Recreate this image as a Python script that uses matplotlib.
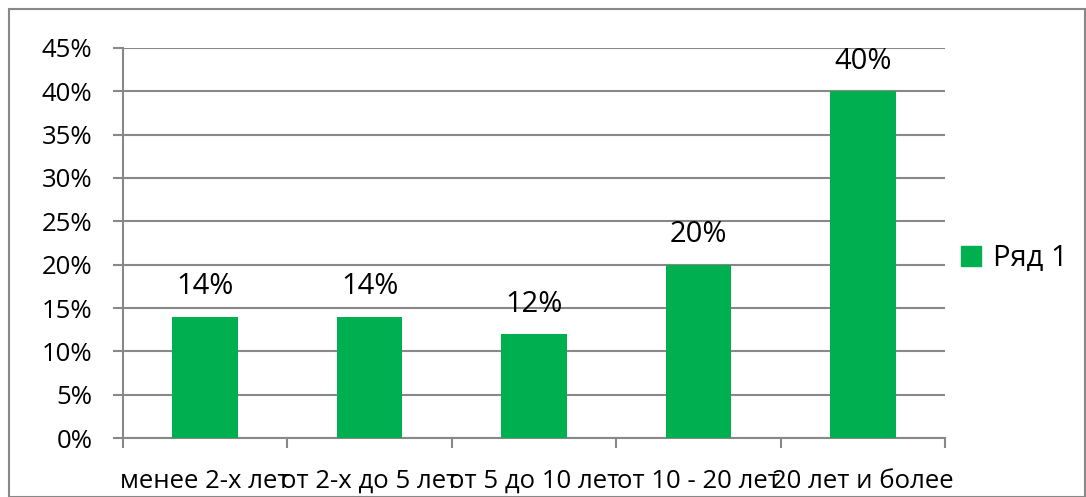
import numpy as np
import matplotlib.pyplot as plt
from matplotlib.patches import Rectangle

categories = ['менее 2-х лет', 'от 2-х до 5 лет', 'от 5 до 10 лет', 'от 10 - 20 лет', '20 лет и более']
values = [0.14, 0.14, 0.12, 0.20, 0.40]
labels = ['14%', '14%', '12%', '20%', '40%']
series_name = 'Ряд 1'

plt.rcParams['font.family'] = ['Open Sans', 'DejaVu Sans']
green = '#00B050'
grid_col = '#888888'

fig = plt.figure(figsize=(10.86, 4.97), dpi=100)
fig.patches.append(Rectangle((9 / 1086, 0), 1 - 9 / 1086 - 1 / 1086, 1 - 9 / 497,
                             transform=fig.transFigure, fill=False,
                             edgecolor=grid_col, linewidth=1.5))

ax = fig.add_axes([123 / 1086, 1 - 438 / 497, (945 - 123) / 1086, (438 - 48) / 497])
x = np.arange(len(categories))
ax.bar(x, values, width=0.4, color=green, zorder=3)

# подписи над столбцами
for xi, v, lab in zip(x, values, labels):
    ax.annotate(lab, (xi, v), xytext=(0, 16), textcoords='offset points',
                ha='center', va='baseline', fontsize=21)

ax.set_xlim(-0.5, len(categories) - 0.5)
ax.set_ylim(0, 0.45)
ticks = np.arange(0, 0.451, 0.05)
ax.set_yticks(ticks)
ax.set_yticklabels([f'{int(round(t * 100))}%' for t in ticks], fontsize=18.5)
ax.yaxis.grid(True, color=grid_col, linewidth=1.5, zorder=0)

ax.set_xticks(np.arange(-0.5, len(categories), 1))
ax.set_xticklabels([])
ax.set_xticks(x, minor=True)
ax.set_xticklabels(categories, minor=True, fontsize=18.5)
ax.tick_params(axis='x', which='minor', length=0, pad=22)
ax.tick_params(axis='x', which='major', length=7, width=1.5, color=grid_col)
ax.tick_params(axis='y', length=7, width=1.5, color=grid_col, pad=15)

for s in ['top', 'right']:
    ax.spines[s].set_visible(False)
for s in ['left', 'bottom']:
    ax.spines[s].set_color(grid_col)
    ax.spines[s].set_linewidth(1.5)

ax.legend([Rectangle((0, 0), 1, 1, color=green)], [series_name],
          loc='center left', bbox_to_anchor=(0.987, 0.46), frameon=False,
          fontsize=21, handlelength=0.7, handleheight=0.7, handletextpad=0.4)

fig.savefig('out.png', dpi=100)
